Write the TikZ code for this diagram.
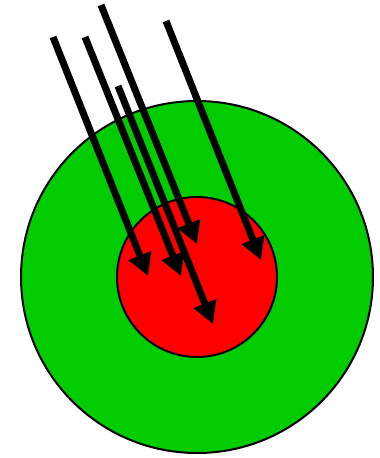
\documentclass[tikz,border=0pt]{standalone}
\usetikzlibrary{arrows.meta}
\definecolor{ringgreen}{RGB}{0,204,0}
\definecolor{corered}{RGB}{255,0,0}
\tikzset{
  disc/.style={circle, draw=black, line width=2pt, inner sep=0pt},
  hit/.style={line width=7pt, -{Triangle[length=22pt,width=23pt]}}
}
\begin{document}
\begin{tikzpicture}[x=1pt,y=-1pt]
\useasboundingbox (0,0) rectangle (380,458);
\node[disc, fill=ringgreen, minimum size=352pt] (outer) at (197,277) {};
\node[disc, fill=corered, minimum size=160pt] (inner) at (197,277) {};
\coordinate (a0) at (53,37);   \coordinate (a1) at (148,276);
\coordinate (b0) at (85,37);   \coordinate (b1) at (181,276);
\coordinate (c0) at (101,5);   \coordinate (c1) at (197,244);
\coordinate (d0) at (166,21);  \coordinate (d1) at (261,260);
\coordinate (e0) at (118,86);  \coordinate (e1) at (213,324);
\draw[hit] (a0) -- (a1);
\draw[hit] (b0) -- (b1);
\draw[hit] (c0) -- (c1);
\draw[hit] (d0) -- (d1);
\draw[hit] (e0) -- (e1);
\end{tikzpicture}
\end{document}
